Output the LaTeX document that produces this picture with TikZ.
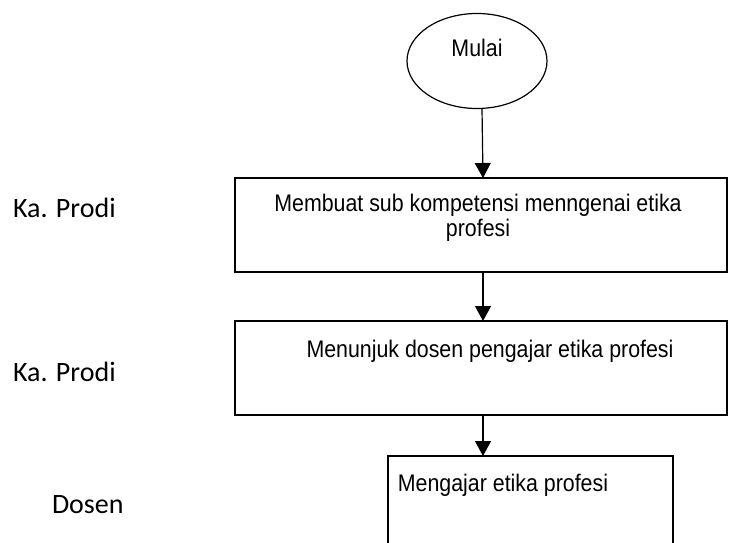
\documentclass[tikz,border=0pt]{standalone}
\usepackage{fontspec}
\setmainfont{Liberation Sans}
\newfontfamily\boxfont[FakeStretch=0.89]{Liberation Sans}
\newfontfamily\lblfont{Carlito}
\usetikzlibrary{shapes.geometric,arrows.meta}
\begin{document}
\begin{tikzpicture}[x=1pt,y=-1pt,
  every node/.style={inner sep=0pt,outer sep=0pt},
  boxst/.style={draw,line width=1.2pt,rectangle},
  arr/.style={line width=1.2pt,-{Triangle[length=15pt,width=16pt]}},
  boxtext/.style={font=\boxfont\fontsize{24}{25}\selectfont,align=center,anchor=base},
  lbl/.style={font=\lblfont\fontsize{28}{32}\selectfont,anchor=west}]
\useasboundingbox (0,0) rectangle (733,543);
\clip (0,0) rectangle (733,543);
% start
\node[draw,line width=1.2pt,ellipse,minimum width=140pt,minimum height=95pt] (ell) at (477,61) {};
\node[boxtext] (tmulai) at (477,56.5) {Mulai};
% boxes
\node[boxst,minimum width=492pt,minimum height=94pt] (b1) at (481,225) {};
\node[boxtext] (t1) at (478,236.5) {Membuat sub kompetensi menngenai etika\\profesi};
\node[boxst,minimum width=492pt,minimum height=94pt] (b2) at (481,368) {};
\node[boxtext] (t2) at (490,357) {Menunjuk dosen pengajar etika profesi};
\node[boxst,minimum width=285pt,minimum height=140pt] (b3) at (530.5,526) {};
\node[boxtext] (t3) at (503,491) {Mengajar etika profesi};
% connectors
\draw[arr] ([xshift=5pt]ell.south) -- ([xshift=2pt]b1.north);
\draw[arr] ([xshift=2pt]b1.south) -- ([xshift=2pt]b2.north);
\draw[arr] ([xshift=2pt]b2.south) -- ([xshift=2pt]b2.south |- b3.north);
% lane labels
\node[lbl] (l1) at (13,208) {Ka. Prodi};
\node[lbl] (l2) at (13,372) {Ka. Prodi};
\node[lbl] (l3) at (52,505) {Dosen};
\end{tikzpicture}
\end{document}
